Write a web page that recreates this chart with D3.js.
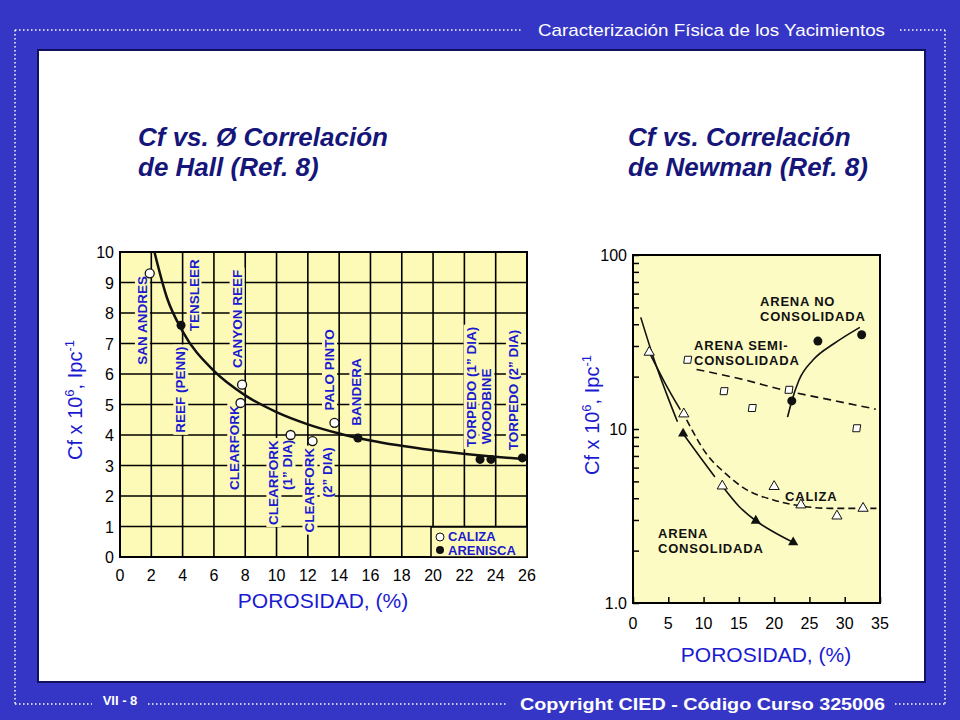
<!DOCTYPE html>
<html><head><meta charset="utf-8">
<script src="https://cdn.jsdelivr.net/npm/d3@7"></script>
<style>body{margin:0;background:#3636c6}text{font-family:"Liberation Sans",Arial,sans-serif}</style>
</head><body><div id="main"></div>
<script>
// Hall chart data
const hallCaliza = [[1.9,9.3],[7.8,5.65],[7.7,5.05],[10.9,4.0],[12.3,3.8],[13.7,4.4]];
const hallArenisca = [[3.9,7.6],[15.2,3.9],[23.0,3.2],[23.7,3.2],[25.7,3.25]];
const hallCurve = [[2.2,10],[3,8.5],[4,7.4],[6,6.1],[8,5.3],[10,4.75],[12,4.35],[14,4.05],[16,3.82],[20,3.5],[26,3.2]];
// label text, x, y of bottom end
const hallLabels = [
  ["SAN ANDRES",1.4,6.3],["TENSLEER",4.7,7.4],["REEF (PENN)",3.85,4.07],["CANYON REEF",7.45,6.2],
  ["CLEARFORK",7.3,2.2],["CLEARFORK",9.8,1.05],["(1\u201D DIA)",10.7,2.2],
  ["CLEARFORK",12.1,0.8],["(2\u201D DIA)",13.2,1.95],["PALO PINTO",13.35,4.8],["BANDERA",15.1,4.3],
  ["TORPEDO (1\u201D DIA)",22.4,3.6],["WOODBINE",23.4,3.7],["TORPEDO (2\u201D DIA)",25.1,3.5]];
const hallXTicks = d3.range(0,27,2);
const hallYTicks = d3.range(0,11,1);

// Newman chart data
const calizaPts = [[2.3,27.6],[7.2,12.2],[12.65,4.7],[20,4.67],[23.8,3.66],[28.9,3.16],[32.6,3.5]];
const consolidadaPts = [[7.1,9.4],[17.4,2.97],[22.7,2.23]];
const semiPts = [[7.75,25],[12.9,16.5],[16.9,13.2],[22.1,16.8],[31.7,10.1]];
const noConsPts = [[22.5,14.5],[26.2,32],[32.4,34.8]];
const curveA = [[1.1,43.8],[3,25],[5,15],[6.3,11]];
const curveB = [[2.3,27.6],[4.5,18.5],[6.7,12.9]];
const curveCaliza = [[7.6,11.3],[10.4,7.2],[13,5.6],[16,4.5],[20,3.9],[24,3.6],[28,3.5],[34.5,3.5]];
const curveCons1 = [[7.1,9.4],[9.5,6.9],[11.6,5.3]];
const curveCons2 = [[12.65,4.7],[15,3.6],[17.4,2.97],[20,2.55],[22.7,2.23]];
const curveSemi = [[9,22],[15,19.5],[22,16.5],[28,14.7],[34.4,13]];
const curveNoCons = [[21.9,11.7],[22.5,14.5],[23.5,19],[25.5,24.9],[28.5,31],[32.15,38.4]];
const newmanXTicks = d3.range(0,36,5);

const svg = d3.select("#main").append("svg").attr("width",960).attr("height",720);
svg.append("rect").attr("width",960).attr("height",720).attr("fill","#3636c6");

// dotted frame
const dot = (x1,y1,x2,y2)=>svg.append("line").attr("x1",x1).attr("y1",y1).attr("x2",x2).attr("y2",y2)
  .attr("stroke","#fff").attr("stroke-width",1.5).attr("stroke-dasharray","1.5,2.5");
dot(15,30,522,30); dot(900,30,945,30); dot(15,30,15,704); dot(945,30,945,704);
dot(15,704,92,704); dot(148,704,508,704); dot(895,704,945,704);
svg.append("text").attr("x",538).attr("y",36).attr("textLength",347).attr("lengthAdjust","spacingAndGlyphs")
  .attr("fill","#fff").style("font-size","17px").text("Caracterización Física de los Yacimientos");
svg.append("text").attr("x",120).attr("y",705).attr("text-anchor","middle").attr("fill","#fff")
  .style("font-size","13px").style("font-weight","bold").text("VII - 8");
svg.append("text").attr("x",520).attr("y",710).attr("textLength",365).attr("lengthAdjust","spacingAndGlyphs")
  .attr("fill","#fff").style("font-size","16px").style("font-weight","bold").text("Copyright CIED - Código Curso 325006");

svg.append("rect").attr("x",38).attr("y",50).attr("width",887).attr("height",632)
  .attr("fill","#fff").attr("stroke","#111160").attr("stroke-width",2);

// titles
const title = (x,lines)=>lines.forEach((t,i)=>svg.append("text").attr("x",x).attr("y",146+i*30)
  .attr("fill","#15157a").style("font-size","26px").style("font-weight","bold").style("font-style","italic").text(t));
title(138,["Cf vs. Ø Correlación","de Hall (Ref. 8)"]);
title(628,["Cf vs. Correlación","de Newman (Ref. 8)"]);

function yLabel(x,y){
  const t = svg.append("text").attr("transform",`translate(${x},${y}) rotate(-90)`).attr("text-anchor","middle")
    .attr("fill","#1a1ad0").style("font-size","20px");
  t.append("tspan").text("Cf x 10");
  t.append("tspan").attr("dy",-8).style("font-size","13px").text("6");
  t.append("tspan").attr("dy",8).text(", Ipc");
  t.append("tspan").attr("dy",-8).style("font-size","13px").text("-1");
}
function xLabel(x,y){
  svg.append("text").attr("x",x).attr("y",y).attr("text-anchor","middle").attr("fill","#1a1ad0")
    .style("font-size","21px").text("POROSIDAD, (%)");
}

// ---- Hall chart
const hx = d3.scaleLinear().domain([0,26]).range([120,527]);
const hy = d3.scaleLinear().domain([0,10]).range([557,252]);
const gH = svg.append("g");
gH.append("rect").attr("x",120).attr("y",252).attr("width",407).attr("height",305).attr("fill","#fdf9b6");
gH.selectAll(".vg").data(hallXTicks).enter().append("line").attr("x1",d=>hx(d)).attr("x2",d=>hx(d))
  .attr("y1",252).attr("y2",557).attr("stroke","#000").attr("stroke-width",1.6);
gH.selectAll(".hg").data(hallYTicks).enter().append("line").attr("y1",d=>hy(d)).attr("y2",d=>hy(d))
  .attr("x1",120).attr("x2",527).attr("stroke","#000").attr("stroke-width",1.6);
gH.append("rect").attr("x",120).attr("y",252).attr("width",407).attr("height",305).attr("fill","none")
  .attr("stroke","#000").attr("stroke-width",2);
gH.selectAll(".xt").data(hallXTicks).enter().append("text").attr("x",d=>hx(d)).attr("y",581)
  .attr("text-anchor","middle").style("font-size","16px").text(d=>d);
gH.selectAll(".yt").data(hallYTicks).enter().append("text").attr("x",114).attr("y",d=>hy(d)+6)
  .attr("text-anchor","end").style("font-size","16px").text(d=>d);
// labels with yellow background
hallLabels.forEach(([t,x,y])=>{
  const g = gH.append("g").attr("transform",`translate(${hx(x)+5},${hy(y)}) rotate(-90)`);
  const txt = g.append("text").attr("x",0).attr("y",0).attr("fill","#1a1ad0")
    .style("font-size","13.5px").style("font-weight","bold").text(t);
  const b = txt.node().getBBox();
  g.insert("rect","text").attr("x",b.x-2).attr("y",b.y).attr("width",b.width+4).attr("height",b.height).attr("fill","#fdf9b6");
});
gH.append("path").datum(hallCurve).attr("fill","none").attr("stroke","#111").attr("stroke-width",2.5)
  .attr("d",d3.line().x(d=>hx(d[0])).y(d=>hy(d[1])).curve(d3.curveMonotoneX));
gH.selectAll(".hc").data(hallCaliza).enter().append("circle").attr("cx",d=>hx(d[0])).attr("cy",d=>hy(d[1]))
  .attr("r",4.5).attr("fill","#fff").attr("stroke","#111").attr("stroke-width",1.3);
gH.selectAll(".ha").data(hallArenisca).enter().append("circle").attr("cx",d=>hx(d[0])).attr("cy",d=>hy(d[1]))
  .attr("r",4.5).attr("fill","#111");
// legend
gH.append("rect").attr("x",431).attr("y",527).attr("width",96).attr("height",30).attr("fill","#fdf9b6").attr("stroke","#000").attr("stroke-width",1.5);
gH.append("circle").attr("cx",440).attr("cy",537).attr("r",4).attr("fill","#fff").attr("stroke","#111");
gH.append("circle").attr("cx",440).attr("cy",550).attr("r",4).attr("fill","#111");
gH.append("text").attr("x",448).attr("y",541).attr("fill","#1a1ad0").style("font-size","13px").style("font-weight","bold").text("CALIZA");
gH.append("text").attr("x",448).attr("y",555).attr("fill","#1a1ad0").style("font-size","13px").style("font-weight","bold").text("ARENISCA");
yLabel(82,400); xLabel(323,608);

// ---- Newman chart
const nx = d3.scaleLinear().domain([0,35]).range([633,880]);
const ny = d3.scaleLog().domain([1,100]).range([603,255]);
const gN = svg.append("g");
gN.append("rect").attr("x",633).attr("y",255).attr("width",247).attr("height",348).attr("fill","#fdfbc4")
  .attr("stroke","#000").attr("stroke-width",2);
gN.append("g").attr("transform","translate(633,0)")
  .call(d3.axisRight(ny).tickValues([1,2,3,4,5,6,7,8,9,10,20,30,40,50,60,70,80,90,100]).tickSize(6).tickFormat(""))
  .call(g=>{g.select(".domain").remove();g.selectAll("line").attr("stroke-width",1.5);});
gN.append("g").attr("transform","translate(0,603)")
  .call(d3.axisTop(nx).tickValues(newmanXTicks).tickSize(6).tickFormat(""))
  .call(g=>{g.select(".domain").remove();g.selectAll("line").attr("stroke-width",1.5);});
gN.selectAll(".nxt").data(newmanXTicks).enter().append("text").attr("x",d=>nx(d)).attr("y",629)
  .attr("text-anchor","middle").style("font-size","16px").text(d=>d);
gN.selectAll(".nyt").data([[1,"1.0"],[10,"10"],[100,"100"]]).enter().append("text").attr("x",627).attr("y",d=>ny(d[0])+6)
  .attr("text-anchor","end").style("font-size","16px").text(d=>d[1]);
const nl = d3.line().x(d=>nx(d[0])).y(d=>ny(d[1])).curve(d3.curveMonotoneX);
const path = (data,dash)=>gN.append("path").datum(data).attr("fill","none").attr("stroke","#111")
  .attr("stroke-width",1.6).attr("stroke-dasharray",dash||null).attr("d",nl);
path(curveA); path(curveB); path(curveCaliza,"7,4"); path(curveCons1); path(curveCons2);
path(curveSemi,"8,5"); path(curveNoCons);
const tri = d3.symbol().type(d3.symbolTriangle).size(45);
gN.selectAll(".ct").data(calizaPts).enter().append("path").attr("d",tri)
  .attr("transform",d=>`translate(${nx(d[0])},${ny(d[1])})`).attr("fill","#fff").attr("stroke","#111");
gN.selectAll(".cs").data(consolidadaPts).enter().append("path").attr("d",tri)
  .attr("transform",d=>`translate(${nx(d[0])},${ny(d[1])})`).attr("fill","#111");
gN.selectAll(".sp").data(semiPts).enter().append("path").attr("d","M-3,-3.5L4,-3.5L3,3.5L-4,3.5Z")
  .attr("transform",d=>`translate(${nx(d[0])},${ny(d[1])})`).attr("fill","#fff").attr("stroke","#111");
gN.selectAll(".nc").data(noConsPts).enter().append("circle").attr("cx",d=>nx(d[0])).attr("cy",d=>ny(d[1]))
  .attr("r",4.5).attr("fill","#111");
const lab = (x,y,lines)=>lines.forEach((t,i)=>gN.append("text").attr("x",x).attr("y",y+i*14.5)
  .style("font-size","13px").style("font-weight","bold").style("letter-spacing","0.8px").attr("fill","#111").text(t));
lab(760,306,["ARENA NO","CONSOLIDADA"]);
lab(694,350,["ARENA SEMI-","CONSOLIDADA"]);
lab(785,501,["CALIZA"]);
lab(658,538,["ARENA","CONSOLIDADA"]);
yLabel(599,415); xLabel(766,662);
</script></body></html>
